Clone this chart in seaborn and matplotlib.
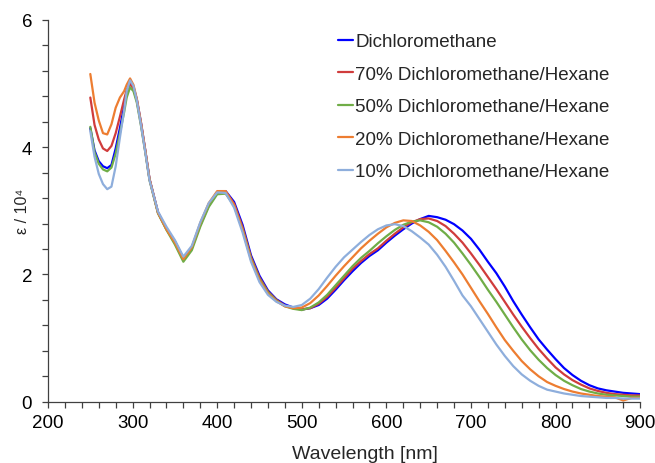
import numpy as np
import pandas as pd
import matplotlib
matplotlib.use("Agg")
import matplotlib.pyplot as plt
from matplotlib.ticker import MultipleLocator
import seaborn as sns

# --- Data, epsilon in units of 10^4 ---
wavelength = [250, 255, 260, 265, 270, 275, 280, 285, 290, 293, 297, 301, 305, 310, 315, 320,
              330, 340, 350, 360, 370, 380, 390, 400, 410, 420, 430, 440, 450, 460, 470,
              480, 490, 500, 510, 520, 530, 540, 550, 560, 570, 580, 590, 600, 610, 620,
              630, 640, 650, 660, 670, 680, 690, 700, 710, 720, 730, 740, 750, 760, 770,
              780, 790, 800, 810, 820, 830, 840, 850, 860, 870, 880, 890, 900]

dcm = [4.30, 3.95, 3.78, 3.70, 3.67, 3.72, 3.98, 4.30, 4.65, 4.88, 5.02, 4.95, 4.75, 4.38, 3.95, 3.50,
       2.98, 2.72, 2.52, 2.26, 2.42, 2.78, 3.08, 3.28, 3.31, 3.14, 2.78, 2.30, 1.98, 1.75, 1.61,
       1.53, 1.48, 1.45, 1.47, 1.52, 1.62, 1.76, 1.91, 2.05, 2.18, 2.29, 2.38, 2.50, 2.61, 2.71,
       2.80, 2.87, 2.92, 2.90, 2.86, 2.79, 2.69, 2.56, 2.39, 2.20, 2.02, 1.81, 1.58, 1.37, 1.17,
       0.98, 0.82, 0.67, 0.53, 0.42, 0.33, 0.26, 0.21, 0.18, 0.16, 0.14, 0.13, 0.12]

dcm70 = [4.78, 4.35, 4.12, 3.98, 3.94, 4.02, 4.22, 4.48, 4.75, 4.90, 4.99, 4.92, 4.73, 4.36, 3.94, 3.50,
         2.97, 2.71, 2.50, 2.24, 2.41, 2.78, 3.09, 3.29, 3.30, 3.11, 2.74, 2.27, 1.95, 1.73, 1.60,
         1.51, 1.47, 1.45, 1.47, 1.54, 1.65, 1.79, 1.94, 2.09, 2.21, 2.32, 2.41, 2.53, 2.64, 2.74,
         2.82, 2.87, 2.88, 2.84, 2.76, 2.64, 2.50, 2.33, 2.15, 1.96, 1.77, 1.57, 1.37, 1.18, 1.00,
         0.83, 0.68, 0.54, 0.43, 0.34, 0.27, 0.21, 0.17, 0.14, 0.12, 0.11, 0.10, 0.10]

dcm50 = [4.32, 3.92, 3.74, 3.65, 3.62, 3.68, 3.90, 4.22, 4.55, 4.78, 4.94, 4.88, 4.70, 4.33, 3.92, 3.48,
         2.96, 2.70, 2.47, 2.20, 2.38, 2.75, 3.06, 3.26, 3.27, 3.08, 2.71, 2.25, 1.93, 1.72, 1.59,
         1.50, 1.46, 1.44, 1.48, 1.56, 1.68, 1.83, 1.98, 2.13, 2.26, 2.37, 2.49, 2.60, 2.70, 2.78,
         2.83, 2.85, 2.82, 2.75, 2.64, 2.50, 2.33, 2.15, 1.96, 1.76, 1.57, 1.37, 1.17, 0.98, 0.81,
         0.66, 0.53, 0.42, 0.33, 0.26, 0.20, 0.16, 0.13, 0.11, 0.10, 0.09, 0.08, 0.08]

dcm20 = [5.15, 4.70, 4.42, 4.22, 4.20, 4.36, 4.62, 4.78, 4.88, 4.98, 5.08, 4.98, 4.76, 4.38, 3.95, 3.50,
         2.97, 2.71, 2.50, 2.24, 2.43, 2.81, 3.12, 3.31, 3.31, 3.09, 2.70, 2.23, 1.91, 1.70, 1.58,
         1.50, 1.47, 1.48, 1.55, 1.67, 1.82, 1.98, 2.13, 2.27, 2.41, 2.53, 2.64, 2.74, 2.81, 2.85,
         2.84, 2.77, 2.67, 2.54, 2.37, 2.19, 2.00, 1.79, 1.58, 1.38, 1.17, 0.97, 0.80, 0.64, 0.51,
         0.40, 0.31, 0.25, 0.20, 0.16, 0.13, 0.11, 0.09, 0.08, 0.07, 0.02, 0.06, 0.06]

dcm10 = [4.25, 3.85, 3.58, 3.42, 3.34, 3.38, 3.70, 4.15, 4.58, 4.88, 5.05, 4.96, 4.73, 4.34, 3.92, 3.48,
         2.99, 2.75, 2.54, 2.28, 2.45, 2.82, 3.12, 3.29, 3.28, 3.05, 2.66, 2.20, 1.88, 1.68, 1.57,
         1.51, 1.49, 1.52, 1.62, 1.77, 1.95, 2.12, 2.27, 2.39, 2.51, 2.62, 2.71, 2.77, 2.79, 2.76,
         2.68, 2.58, 2.47, 2.31, 2.12, 1.90, 1.67, 1.50, 1.30, 1.10, 0.90, 0.72, 0.56, 0.43, 0.33,
         0.25, 0.19, 0.16, 0.13, 0.11, 0.09, 0.08, 0.07, 0.06, 0.06, 0.05, 0.05, 0.05]

labels = ["Dichloromethane",
          "70% Dichloromethane/Hexane",
          "50% Dichloromethane/Hexane",
          "20% Dichloromethane/Hexane",
          "10% Dichloromethane/Hexane"]
colors = ["#0000FF", "#D03C3C", "#70AD47", "#ED7D31", "#8EAEDC"]
series = [dcm, dcm70, dcm50, dcm20, dcm10]

# --- Long-format table for seaborn ---
df = pd.concat(
    [pd.DataFrame({"Wavelength": wavelength, "eps": vals, "Solvent": lab})
     for lab, vals in zip(labels, series)],
    ignore_index=True,
)

sns.set_style("ticks")
plt.rcParams["font.family"] = ["Liberation Sans", "DejaVu Sans"]

fig = plt.figure(figsize=(6.55, 4.64), dpi=100)
ax = fig.add_axes([0.0733, 0.132, 0.904, 0.823])

sns.lineplot(data=df, x="Wavelength", y="eps", hue="Solvent", hue_order=labels,
             palette=colors, linewidth=1.6, ax=ax, sort=True, estimator=None)

ax.set_xlim(200, 900)
ax.set_ylim(0, 6)
ax.xaxis.set_major_locator(MultipleLocator(100))
ax.xaxis.set_minor_locator(MultipleLocator(20))
ax.yaxis.set_major_locator(MultipleLocator(2))
ax.yaxis.set_minor_locator(MultipleLocator(0.4))
ax.tick_params(which="both", direction="out", length=4.5, width=0.9,
               colors="#404040", labelcolor="black", labelsize=13.5)
ax.tick_params(axis="y", pad=7)
ax.tick_params(axis="x", pad=4)
for s in ["top", "right"]:
    ax.spines[s].set_visible(False)
for s in ["left", "bottom"]:
    ax.spines[s].set_color("#404040")
    ax.spines[s].set_linewidth(0.9)

ax.set_xlabel("Wavelength [nm]", fontsize=14, va="top")
ax.xaxis.set_label_coords(0.535, -0.112)
ax.set_ylabel("ε / 10⁴", fontsize=11.5, va="bottom")
ax.yaxis.set_label_coords(-0.031, 0.5)

ax.legend(loc="upper left", bbox_to_anchor=(0.49, 0.965), frameon=False,
          fontsize=13.5, handlelength=0.8, handletextpad=0.1,
          labelspacing=0.82, borderpad=0, borderaxespad=0)

fig.savefig("out.png", dpi=100)
